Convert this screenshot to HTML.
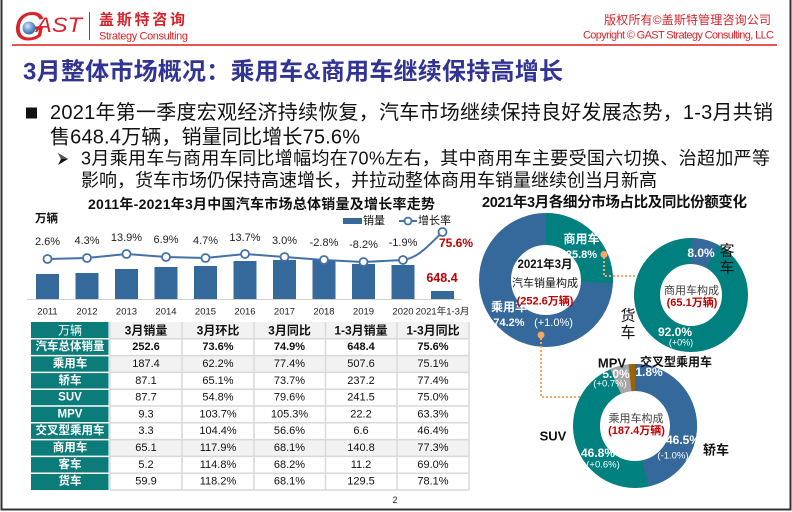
<!DOCTYPE html>
<html><head><meta charset="utf-8"><style>
html,body{margin:0;padding:0;background:#fff;}
svg{display:block;}
text{font-family:"Liberation Sans","Noto Sans CJK SC",sans-serif;}
</style></head><body>
<svg width="792" height="512" viewBox="0 0 792 512" xmlns="http://www.w3.org/2000/svg">
<defs>
<radialGradient id="gl" cx="0.4" cy="0.35" r="0.7"><stop offset="0" stop-color="#dbe9f7"/><stop offset="0.5" stop-color="#6f9fd4"/><stop offset="1" stop-color="#2a5f9e"/></radialGradient>
<marker id="ar" markerWidth="6" markerHeight="6" refX="3" refY="3" orient="auto" markerUnits="userSpaceOnUse"><path d="M0,0 L6,3 L0,6 Z" fill="#f4a862"/></marker>
</defs>
<rect width="792" height="512" fill="#fff"/>
<!-- frame -->
<path d="M1.5,-2 V509.5 H790.5 V-2" fill="none" stroke="#333" stroke-width="2"/>

<!-- logo -->
<text x="14" y="40" font-family="Liberation Serif" font-style="italic" font-size="40" fill="#d9232a">G</text>
<circle cx="29" cy="28" r="6.5" fill="url(#gl)"/>
<text x="36" y="32" font-style="italic" font-size="21" fill="#d9232a" textLength="46" lengthAdjust="spacingAndGlyphs">AST</text>
<line x1="89.5" y1="12" x2="89.5" y2="40" stroke="#d9232a" stroke-width="1"/>
<text x="99" y="20" dominant-baseline="central" font-size="15" font-weight="bold" fill="#d9232a" textLength="86">盖斯特咨询</text>
<text x="99" y="36.5" dominant-baseline="central" font-size="11" fill="#d9232a" textLength="89">Strategy Consulting</text>
<text x="771" y="20" dominant-baseline="central" text-anchor="end" font-size="12" fill="#d9232a" textLength="167">版权所有©盖斯特管理咨询公司</text>
<text x="774" y="35.5" dominant-baseline="central" text-anchor="end" font-size="11" fill="#d9232a" textLength="191">Copyright © GAST Strategy Consulting, LLC</text>
<line x1="12" y1="45" x2="777" y2="45" stroke="#e01a1a" stroke-width="1.5"/>

<!-- title -->
<text x="23" y="72" dominant-baseline="central" font-size="24" font-weight="bold" fill="#323494" textLength="540">3月整体市场概况：乘用车&amp;商用车继续保持高增长</text>

<!-- bullets -->
<rect x="26" y="107.5" width="11" height="11" fill="#111"/>
<text x="50" y="113" dominant-baseline="central" font-size="20" fill="#111" textLength="723">2021年第一季度宏观经济持续恢复，汽车市场继续保持良好发展态势，1-3月共销</text>
<text x="50" y="137.5" dominant-baseline="central" font-size="20" fill="#111" textLength="310">售648.4万辆，销量同比增长75.6%</text>
<path d="M58,153 L68,159 L58,165 L61,159 Z" fill="#111"/>
<path d="M58,153 L68,159 L61,159 Z" fill="#555"/>
<text x="81" y="158.5" dominant-baseline="central" font-size="18" fill="#111" textLength="689">3月乘用车与商用车同比增幅均在70%左右，其中商用车主要受国六切换、治超加严等</text>
<text x="81" y="180.5" dominant-baseline="central" font-size="18" fill="#111" textLength="576">影响，货车市场仍保持高速增长，并拉动整体商用车销量继续创当月新高</text>

<!-- left chart -->
<text x="88" y="204" dominant-baseline="central" font-size="14" font-weight="bold" fill="#111" textLength="347">2011年-2021年3月中国汽车市场总体销量及增长率走势</text>
<text x="35" y="219" dominant-baseline="central" font-size="11.5" font-weight="bold" fill="#111">万辆</text>
<rect x="343" y="218" width="19" height="6" fill="#35689b"/>
<text x="363" y="221" dominant-baseline="central" font-size="11" fill="#111">销量</text>
<line x1="399" y1="221" x2="417" y2="221" stroke="#4472a8" stroke-width="2"/>
<circle cx="408" cy="221" r="3.5" fill="#fff" stroke="#4472a8" stroke-width="1.8"/>
<text x="418" y="221" dominant-baseline="central" font-size="11" fill="#111">增长率</text>

<g fill="#35689b">
<rect x="36" y="274" width="23" height="25"/>
<rect x="75.5" y="273" width="23" height="26"/>
<rect x="115" y="269" width="23" height="30"/>
<rect x="154.5" y="267" width="23" height="32"/>
<rect x="194" y="266" width="23" height="33"/>
<rect x="233.5" y="261" width="23" height="38"/>
<rect x="273" y="260" width="23" height="39"/>
<rect x="312.5" y="260" width="23" height="39"/>
<rect x="352" y="264" width="23" height="35"/>
<rect x="391.5" y="265" width="23" height="34"/>
<rect x="431" y="291" width="23" height="8"/>
</g>
<line x1="27" y1="299.5" x2="462" y2="299.5" stroke="#d0d0d0" stroke-width="1"/>
<path d="M47.5,259 L87,258 L126.5,254 L166,257 L205.5,258 L245,254 L284.5,257 L324,260 L363.5,262 L403,260 C418,258 428,246 442.5,232" fill="none" stroke="#4472a8" stroke-width="2"/>
<g fill="#fff" stroke="#4472a8" stroke-width="1.8">
<circle cx="47.5" cy="259" r="4"/><circle cx="87" cy="258" r="4"/><circle cx="126.5" cy="254" r="4"/><circle cx="166" cy="257" r="4"/><circle cx="205.5" cy="258" r="4"/><circle cx="245" cy="254" r="4"/><circle cx="284.5" cy="257" r="4"/><circle cx="324" cy="260" r="4"/><circle cx="363.5" cy="262" r="4"/><circle cx="403" cy="260" r="4"/><circle cx="442.5" cy="232" r="4"/>
</g>
<g font-size="11" fill="#222" text-anchor="middle" dominant-baseline="central">
<text x="47.5" y="242">2.6%</text><text x="87" y="241">4.3%</text><text x="126.5" y="238">13.9%</text><text x="166" y="240">6.9%</text><text x="205.5" y="241">4.7%</text><text x="245" y="238">13.7%</text><text x="284.5" y="241">3.0%</text><text x="324" y="243">-2.8%</text><text x="363.5" y="245">-8.2%</text><text x="403" y="243">-1.9%</text>
</g>
<text x="439" y="243" dominant-baseline="central" font-size="12" font-weight="bold" fill="#c00000">75.6%</text>
<text x="442" y="278" dominant-baseline="central" text-anchor="middle" font-size="12.5" font-weight="bold" fill="#c00000">648.4</text>
<g font-size="9.5" fill="#222" text-anchor="middle" dominant-baseline="central">
<text x="47.5" y="312">2011</text><text x="87" y="312">2012</text><text x="126.5" y="312">2013</text><text x="166" y="312">2014</text><text x="205.5" y="312">2015</text><text x="245" y="312">2016</text><text x="284.5" y="312">2017</text><text x="324" y="312">2018</text><text x="363.5" y="312">2019</text><text x="403" y="312">2020</text><text x="442.5" y="312">2021年1-3月</text>
</g>

<!-- table -->
<rect x="110" y="322" width="359" height="16.8" fill="#f2f2f2"/>
<rect x="110" y="355.6" width="359" height="16.8" fill="#f2f2f2"/>
<rect x="110" y="439.6" width="359" height="16.8" fill="#f2f2f2"/>
<rect x="31" y="322" width="77.5" height="168" fill="#0c7c7b"/>
<g stroke="#fff" stroke-width="1.5">
<line x1="31" y1="338.8" x2="109" y2="338.8"/><line x1="31" y1="355.6" x2="109" y2="355.6"/><line x1="31" y1="372.4" x2="109" y2="372.4"/><line x1="31" y1="389.2" x2="109" y2="389.2"/><line x1="31" y1="406" x2="109" y2="406"/><line x1="31" y1="422.8" x2="109" y2="422.8"/><line x1="31" y1="439.6" x2="109" y2="439.6"/><line x1="31" y1="456.4" x2="109" y2="456.4"/><line x1="31" y1="473.2" x2="109" y2="473.2"/>
</g>
<g stroke="#d9d9d9" stroke-width="1.5">
<line x1="110" y1="338.8" x2="469" y2="338.8"/><line x1="110" y1="355.6" x2="469" y2="355.6"/><line x1="110" y1="372.4" x2="469" y2="372.4"/><line x1="110" y1="389.2" x2="469" y2="389.2"/><line x1="110" y1="406" x2="469" y2="406"/><line x1="110" y1="422.8" x2="469" y2="422.8"/><line x1="110" y1="439.6" x2="469" y2="439.6"/><line x1="110" y1="456.4" x2="469" y2="456.4"/><line x1="110" y1="473.2" x2="469" y2="473.2"/><line x1="110" y1="490" x2="469" y2="490"/>
<line x1="110" y1="322" x2="110" y2="490"/><line x1="182" y1="322" x2="182" y2="490"/><line x1="254" y1="322" x2="254" y2="490"/><line x1="325.5" y1="322" x2="325.5" y2="490"/><line x1="397" y1="322" x2="397" y2="490"/><line x1="469" y1="322" x2="469" y2="490"/>
</g>
<g font-size="11.5" fill="#fff" text-anchor="middle" dominant-baseline="central" font-weight="bold">
<text x="70" y="330.4" font-weight="normal" font-size="12">万辆</text>
<text x="70" y="347.2">汽车总体销量</text>
<text x="70" y="364">乘用车</text>
<text x="70" y="380.8">轿车</text>
<text x="70" y="397.6">SUV</text>
<text x="70" y="414.4">MPV</text>
<text x="70" y="431.2">交叉型乘用车</text>
<text x="70" y="448">商用车</text>
<text x="70" y="464.8">客车</text>
<text x="70" y="481.6">货车</text>
</g>
<g font-size="12" fill="#111" text-anchor="middle" dominant-baseline="central" font-weight="bold">
<text x="146" y="330.4">3月销量</text><text x="218" y="330.4">3月环比</text><text x="289.5" y="330.4">3月同比</text><text x="361" y="330.4">1-3月销量</text><text x="433" y="330.4">1-3月同比</text>
</g>
<g font-size="11" fill="#111" text-anchor="middle" dominant-baseline="central">
<g font-weight="bold"><text x="146" y="347.2">252.6</text><text x="218" y="347.2">73.6%</text><text x="289.5" y="347.2">74.9%</text><text x="361" y="347.2">648.4</text><text x="433" y="347.2">75.6%</text></g>
<text x="146" y="364">187.4</text><text x="218" y="364">62.2%</text><text x="289.5" y="364">77.4%</text><text x="361" y="364">507.6</text><text x="433" y="364">75.1%</text>
<text x="146" y="380.8">87.1</text><text x="218" y="380.8">65.1%</text><text x="289.5" y="380.8">73.7%</text><text x="361" y="380.8">237.2</text><text x="433" y="380.8">77.4%</text>
<text x="146" y="397.6">87.7</text><text x="218" y="397.6">54.8%</text><text x="289.5" y="397.6">79.6%</text><text x="361" y="397.6">241.5</text><text x="433" y="397.6">75.0%</text>
<text x="146" y="414.4">9.3</text><text x="218" y="414.4">103.7%</text><text x="289.5" y="414.4">105.3%</text><text x="361" y="414.4">22.2</text><text x="433" y="414.4">63.3%</text>
<text x="146" y="431.2">3.3</text><text x="218" y="431.2">104.4%</text><text x="289.5" y="431.2">56.6%</text><text x="361" y="431.2">6.6</text><text x="433" y="431.2">46.4%</text>
<text x="146" y="448">65.1</text><text x="218" y="448">117.9%</text><text x="289.5" y="448">68.1%</text><text x="361" y="448">140.8</text><text x="433" y="448">77.3%</text>
<text x="146" y="464.8">5.2</text><text x="218" y="464.8">114.8%</text><text x="289.5" y="464.8">68.2%</text><text x="361" y="464.8">11.2</text><text x="433" y="464.8">69.0%</text>
<text x="146" y="481.6">59.9</text><text x="218" y="481.6">118.2%</text><text x="289.5" y="481.6">68.1%</text><text x="361" y="481.6">129.5</text><text x="433" y="481.6">78.1%</text>
</g>
<text x="395" y="500" text-anchor="middle" dominant-baseline="central" font-size="9" fill="#222">2</text>

<!-- right title -->
<text x="482" y="203" dominant-baseline="central" font-size="14.5" font-weight="bold" fill="#111" textLength="265">2021年3月各细分市场占比及同比份额变化</text>

<!-- donut 1 -->
<circle cx="546" cy="280" r="51" fill="none" stroke="#35689b" stroke-width="32"/>
<circle cx="546" cy="280" r="51" fill="none" stroke="#00807f" stroke-width="32" stroke-dasharray="82.67 400" transform="rotate(-90 546 280)"/>
<g font-size="12" fill="#fff" text-anchor="middle" dominant-baseline="central" font-weight="bold">
<text x="581.5" y="239">商用车</text>
<text x="509" y="307">乘用车</text>
</g>
<g font-size="11" fill="#fff" text-anchor="middle" dominant-baseline="central">
<text x="581.5" y="255" font-weight="bold">25.8%</text>
<text x="509" y="323" font-weight="bold">74.2%</text>
<text x="553.5" y="323">(+1.0%)</text>
</g>
<text x="545" y="265" text-anchor="middle" dominant-baseline="central" font-size="11.5" font-weight="bold" fill="#111">2021年3月</text>
<text x="545" y="283.5" text-anchor="middle" dominant-baseline="central" font-size="11" fill="#111">汽车销量构成</text>
<text x="545" y="301.5" text-anchor="middle" dominant-baseline="central" font-size="11" font-weight="bold" fill="#c00000">(252.6万辆)</text>

<!-- connectors -->
<g fill="none" stroke="#f4a862" stroke-width="2" stroke-dasharray="2 2">
<path d="M604,257 V276 H641" marker-end="url(#ar)"/>
<path d="M541,338 V397 H593" marker-end="url(#ar)"/>
</g>
<circle cx="604" cy="254.5" r="3.5" fill="#f4a862"/>
<circle cx="541" cy="335" r="3.5" fill="#f4a862"/>

<!-- donut 2 -->
<circle cx="691" cy="295" r="44" fill="none" stroke="#00807f" stroke-width="26"/>
<circle cx="691" cy="295" r="44" fill="none" stroke="#35689b" stroke-width="26" stroke-dasharray="22.12 400" transform="rotate(-90 691 295)"/>
<text x="701" y="253" text-anchor="middle" dominant-baseline="central" font-size="12" font-weight="bold" fill="#fff">8.0%</text>
<text x="675" y="332" text-anchor="middle" dominant-baseline="central" font-size="12" font-weight="bold" fill="#fff">92.0%</text>
<text x="681" y="342.5" text-anchor="middle" dominant-baseline="central" font-size="9" fill="#fff">(+0%)</text>
<text x="691.5" y="291" text-anchor="middle" dominant-baseline="central" font-size="11" fill="#404040">商用车构成</text>
<text x="692" y="303" text-anchor="middle" dominant-baseline="central" font-size="11" font-weight="bold" fill="#c00000">(65.1万辆)</text>
<g font-size="15" fill="#111" text-anchor="middle" dominant-baseline="central">
<text x="727" y="251">客</text><text x="727" y="268">车</text>
<text x="628" y="316">货</text><text x="628" y="333">车</text>
</g>

<!-- donut 3 -->
<circle cx="635" cy="426" r="48.5" fill="none" stroke="#00807f" stroke-width="27"/>
<g transform="rotate(-90 635 426)" fill="none" stroke-width="27">
<circle cx="635" cy="426" r="48.5" stroke="#35689b" stroke-dasharray="141.7 400"/>
<circle cx="635" cy="426" r="48.5" stroke="#a6a6a6" stroke-dasharray="15.24 400" stroke-dashoffset="-284.31"/>
<circle cx="635" cy="426" r="48.5" stroke="#9c6300" stroke-dasharray="5.49 400" stroke-dashoffset="-299.24"/>
</g>
<g font-size="12" fill="#fff" text-anchor="middle" dominant-baseline="central" font-weight="bold">
<text x="616" y="374">5.0%</text>
<text x="649" y="372">1.8%</text>
<text x="683" y="440">46.5%</text>
<text x="598" y="453">46.8%</text>
</g>
<g font-size="9.5" fill="#fff" text-anchor="middle" dominant-baseline="central">
<text x="610" y="384">(+0.7%)</text>
<text x="673" y="456">(-1.0%)</text>
<text x="603" y="465">(+0.6%)</text>
</g>
<text x="636" y="419" text-anchor="middle" dominant-baseline="central" font-size="11" fill="#404040">乘用车构成</text>
<text x="636.5" y="431" text-anchor="middle" dominant-baseline="central" font-size="11" font-weight="bold" fill="#c00000">(187.4万辆)</text>
<g font-size="13" fill="#111" text-anchor="middle" dominant-baseline="central" font-weight="bold">
<text x="612" y="363">MPV</text>
<text x="553" y="436">SUV</text>
<text x="716" y="450">轿车</text>
</g>
<text x="676" y="362" text-anchor="middle" dominant-baseline="central" font-size="12" fill="#111" font-weight="bold">交叉型乘用车</text>
</svg>
</body></html>
